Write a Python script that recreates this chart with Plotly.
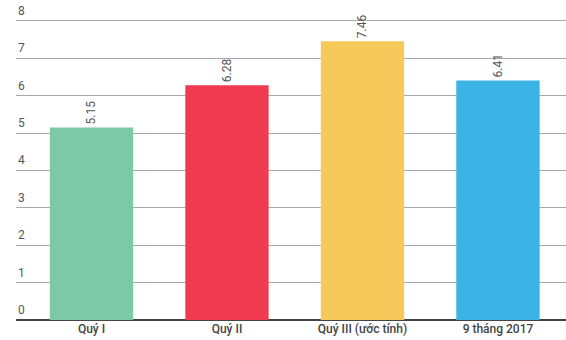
import plotly.graph_objects as go

# Quarterly values
categories = ["Quý I", "Quý II", "Quý III (ước tính)", "9 tháng 2017"]
values = [5.15, 6.28, 7.46, 6.41]
value_labels = ["5.15", "6.28", "7.46", "6.41"]
bar_colors = ["#7dc8a6", "#ef3a50", "#f5ca5a", "#3bb3e6"]
y_ticks = [0, 1, 2, 3, 4, 5, 6, 7, 8]

fig = go.Figure(
    go.Bar(
        x=list(range(len(categories))),
        y=values,
        marker=dict(color=bar_colors, line=dict(width=0)),
        width=0.615,
        text=value_labels,
        textposition="outside",
        textangle=-90,
        textfont=dict(family="Roboto", size=12, color="#555555"),
        cliponaxis=False,
        hoverinfo="skip",
    )
)

# y-axis labels sit just above each gridline at the left edge
for v in y_ticks:
    fig.add_annotation(
        x=0, xref="paper", xanchor="left",
        y=v, yref="y", yanchor="bottom",
        text=str(v), showarrow=False,
        font=dict(family="Roboto", size=12, color="#555555"),
        xshift=0, yshift=1,
    )

fig.update_layout(
    width=566,
    height=340,
    margin=dict(l=16, r=0, t=6, b=20),
    paper_bgcolor="white",
    plot_bgcolor="white",
    showlegend=False,
    font=dict(family="Roboto", color="#444444"),
    xaxis=dict(
        tickmode="array",
        tickvals=list(range(len(categories))),
        ticktext=categories,
        range=[-0.557, 3.502],
        showgrid=False,
        zeroline=False,
        showline=False,
        ticks="",
        tickfont=dict(family="Roboto", size=12, color="#444444", weight=500),
    ),
    yaxis=dict(
        range=[0, 8.4],
        tickmode="linear",
        tick0=0,
        dtick=1,
        showgrid=True,
        gridcolor="#a8a8a8",
        gridwidth=1,
        zeroline=True,
        zerolinecolor="#444444",
        zerolinewidth=2,
        ticks="",
        showticklabels=False,
    ),
)

fig.write_html("out.html")
